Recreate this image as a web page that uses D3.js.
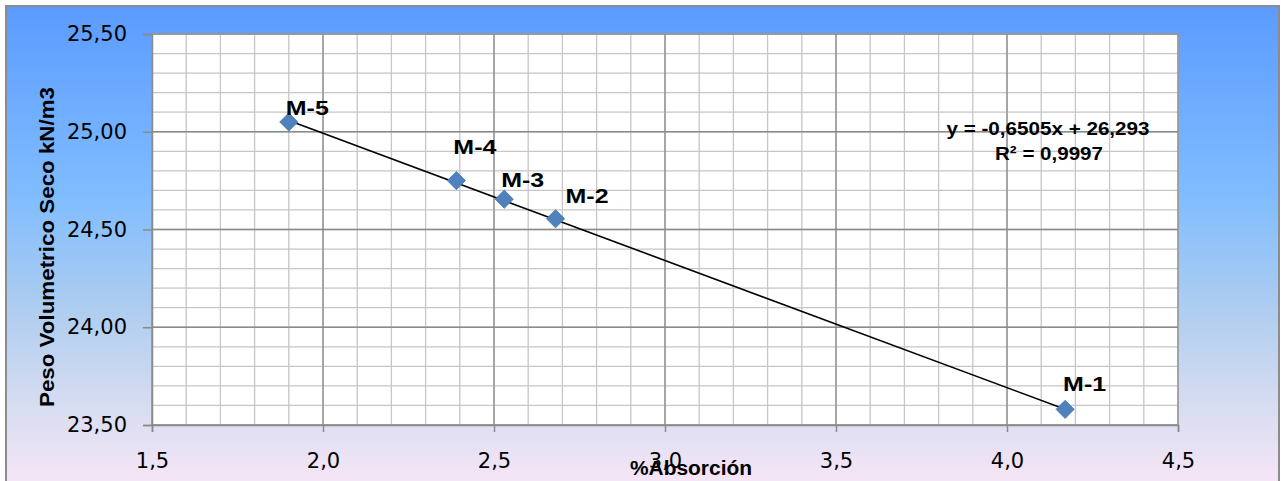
<!DOCTYPE html>
<html>
<head>
<meta charset="utf-8">
<script src="https://cdn.jsdelivr.net/npm/d3@7"></script>
<style>
  html, body { margin: 0; padding: 0; background: #ffffff; }
  svg { display: block; }
</style>
</head>
<body>
<svg id="chart" width="1281" height="481"></svg>
<script>
// ---------- data ----------
const sampleNames = ["M-1", "M-2", "M-3", "M-4", "M-5"];
const absorcion   = [4.17, 2.68, 2.53, 2.39, 1.90];      // % Absorción
const pesoVolum   = [23.58, 24.555, 24.655, 24.75, 25.05]; // kN/m3
const trendSlope = -0.6505;
const trendIntercept = 26.293;
const equationText = "y = -0,6505x + 26,293";
const r2Text = "R² = 0,9997";
const xTickValues = [1.5, 2.0, 2.5, 3.0, 3.5, 4.0, 4.5];
const xTickLabels = ["1,5", "2,0", "2,5", "3,0", "3,5", "4,0", "4,5"];
const yTickValues = [23.5, 24.0, 24.5, 25.0, 25.5];
const yTickLabels = ["23,50", "24,00", "24,50", "25,00", "25,50"];
const xTitle = "%Absorción";
const yTitle = "Peso Volumetrico Seco kN/m3";

// ---------- layout (not data) ----------
const labelOffsets = [[-2, -18], [10, -16], [-3, -12], [-3, -27], [-3, -7]];
const plot = { left: 152, right: 1178, top: 34, bottom: 425 };

const svg = d3.select("#chart");

// background gradient
const defs = svg.append("defs");
const grad = defs.append("linearGradient").attr("id", "bg")
  .attr("x1", 0).attr("y1", 0).attr("x2", 0).attr("y2", 1);
[[0, "#5b9bff"], [0.38, "#7fbcff"], [0.62, "#aecdf0"], [0.82, "#d8ddf1"], [1, "#fbe7f7"]]
  .forEach(([o, c]) => grad.append("stop").attr("offset", o).attr("stop-color", c));

svg.append("rect").attr("x", 6).attr("y", 6).attr("width", 1273).attr("height", 490)
  .attr("fill", "url(#bg)").attr("stroke", "#8c8c8c").attr("stroke-width", 2);

const x = d3.scaleLinear().domain([1.5, 4.5]).range([plot.left, plot.right]);
const y = d3.scaleLinear().domain([23.5, 25.5]).range([plot.bottom, plot.top]);

// plot area
svg.append("rect").attr("x", plot.left).attr("y", plot.top)
  .attr("width", plot.right - plot.left).attr("height", plot.bottom - plot.top)
  .attr("fill", "#ffffff");

// minor grid
const g = svg.append("g");
g.selectAll("line.vx").data(x.ticks(30)).join("line")
  .attr("x1", d => x(d)).attr("x2", d => x(d)).attr("y1", plot.top).attr("y2", plot.bottom)
  .attr("stroke", "#c6c6c6").attr("stroke-width", 1.3);
g.selectAll("line.hy").data(y.ticks(20)).join("line")
  .attr("y1", d => y(d)).attr("y2", d => y(d)).attr("x1", plot.left).attr("x2", plot.right)
  .attr("stroke", "#c6c6c6").attr("stroke-width", 1.3);
// major grid
g.selectAll("line.mx").data(xTickValues).join("line")
  .attr("x1", d => x(d)).attr("x2", d => x(d)).attr("y1", plot.top).attr("y2", plot.bottom)
  .attr("stroke", "#8a8a8a").attr("stroke-width", 1.3);
g.selectAll("line.my").data(yTickValues).join("line")
  .attr("y1", d => y(d)).attr("y2", d => y(d)).attr("x1", plot.left).attr("x2", plot.right)
  .attr("stroke", "#8a8a8a").attr("stroke-width", 1.3);

// axes
const yAxis = d3.axisLeft(y).tickValues(yTickValues)
  .tickFormat((d, i) => yTickLabels[i]).tickSize(9).tickPadding(16);
const xAxis = d3.axisBottom(x).tickValues(xTickValues)
  .tickFormat((d, i) => xTickLabels[i]).tickSize(7).tickPadding(21);

const ya = svg.append("g").attr("transform", `translate(${plot.left},0)`).call(yAxis);
const xa = svg.append("g").attr("transform", `translate(0,${plot.bottom})`).call(xAxis);
[ya, xa].forEach(a => {
  a.select(".domain").attr("stroke", "#8a8a8a").attr("stroke-width", 1.5);
  a.selectAll(".tick line").attr("stroke", "#8a8a8a").attr("stroke-width", 1.5);
  a.selectAll(".tick text").attr("fill", "#000").attr("font-family", "DejaVu Sans")
    .attr("font-size", 21);
});

// trendline
const xMin = d3.min(absorcion), xMax = d3.max(absorcion);
svg.append("line")
  .attr("x1", x(xMin)).attr("y1", y(trendSlope * xMin + trendIntercept))
  .attr("x2", x(xMax)).attr("y2", y(trendSlope * xMax + trendIntercept))
  .attr("stroke", "#000").attr("stroke-width", 1.6);

// markers
const pts = sampleNames.map((n, i) => ({ n, x: absorcion[i], y: pesoVolum[i], i }));
svg.selectAll("path.mk").data(pts).join("path")
  .attr("d", d3.symbol(d3.symbolSquare, 165))
  .attr("transform", d => `translate(${x(d.x)},${y(d.y)}) rotate(45)`)
  .attr("fill", "#4f81bd").attr("stroke", "#4a7ab3").attr("stroke-width", 0.8);

// data labels
svg.selectAll("text.lb").data(pts).join("text")
  .attr("x", d => x(d.x) + labelOffsets[d.i][0])
  .attr("y", d => y(d.y) + labelOffsets[d.i][1])
  .attr("font-family", "Liberation Sans, Arial, sans-serif").attr("font-weight", "bold")
  .attr("font-size", 20).attr("textLength", 43).attr("lengthAdjust", "spacingAndGlyphs")
  .attr("fill", "#000").text(d => d.n);

// equation
svg.append("text").attr("x", 1048).attr("y", 135).attr("text-anchor", "middle")
  .attr("font-family", "Liberation Sans, Arial, sans-serif").attr("font-weight", "bold")
  .attr("font-size", 18.5).attr("textLength", 203).attr("lengthAdjust", "spacingAndGlyphs")
  .text(equationText);
svg.append("text").attr("x", 1049).attr("y", 160).attr("text-anchor", "middle")
  .attr("font-family", "Liberation Sans, Arial, sans-serif").attr("font-weight", "bold")
  .attr("font-size", 18.5).attr("textLength", 108).attr("lengthAdjust", "spacingAndGlyphs")
  .text(r2Text);

// axis titles
svg.append("text").attr("x", 691).attr("y", 475).attr("text-anchor", "middle")
  .attr("font-family", "Liberation Sans, Arial, sans-serif").attr("font-weight", "bold")
  .attr("font-size", 19.5).attr("textLength", 122).attr("lengthAdjust", "spacingAndGlyphs")
  .text(xTitle);
svg.append("text").attr("transform", "translate(54,247) rotate(-90)").attr("text-anchor", "middle")
  .attr("font-family", "Liberation Sans, Arial, sans-serif").attr("font-weight", "bold")
  .attr("font-size", 19.5).attr("textLength", 320).attr("lengthAdjust", "spacingAndGlyphs")
  .text(yTitle);
</script>
</body>
</html>
